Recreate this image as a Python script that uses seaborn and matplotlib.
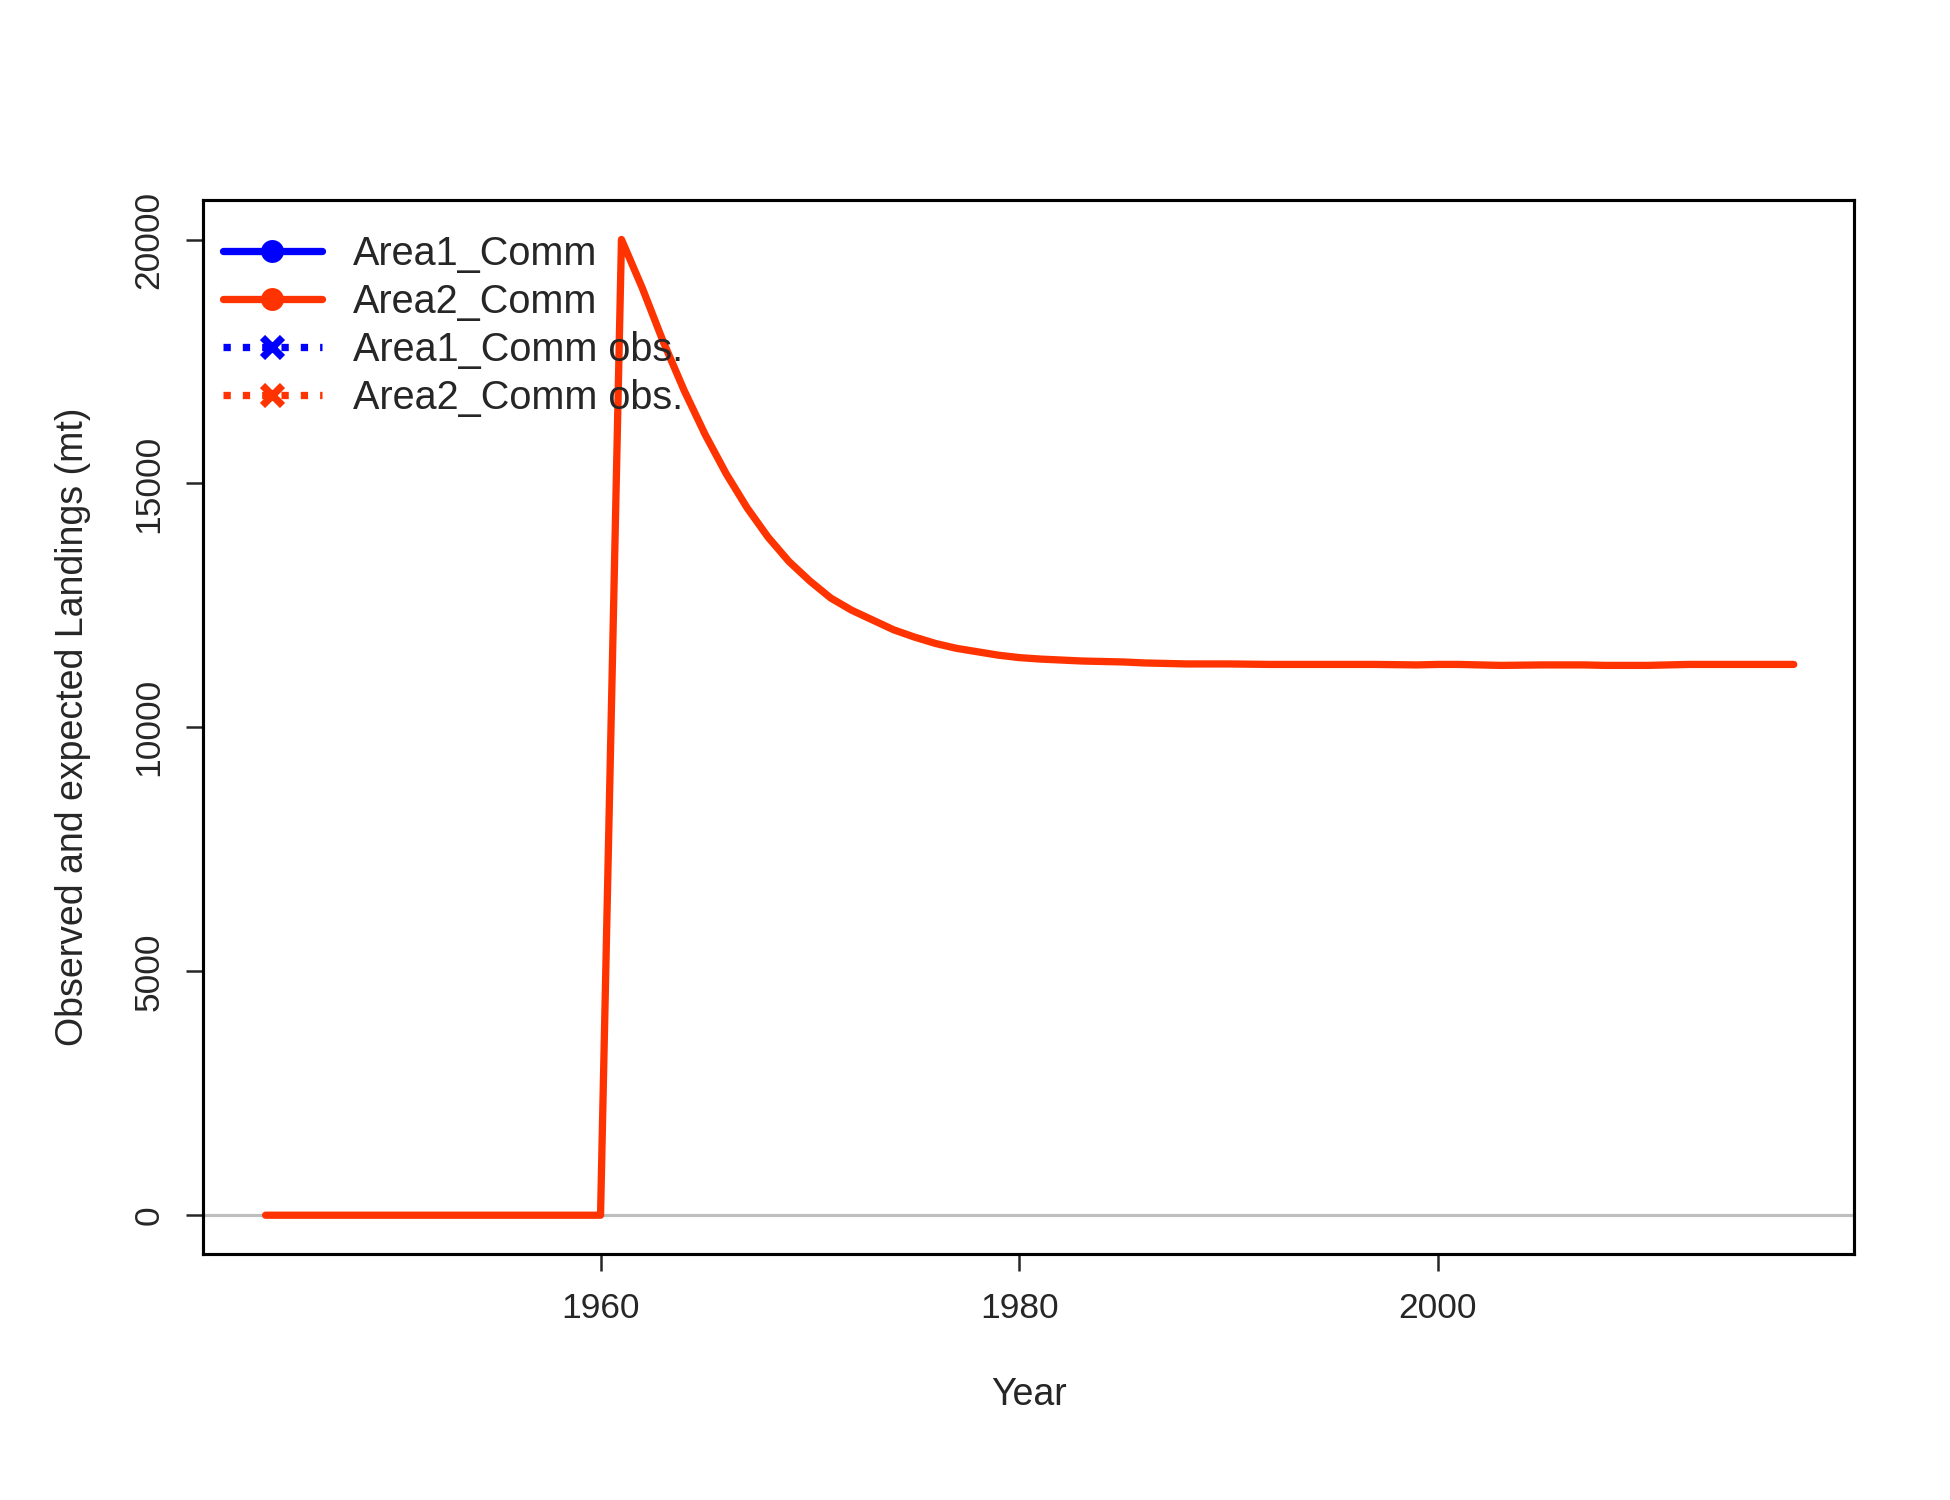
import numpy as np
import pandas as pd
import matplotlib
matplotlib.use("Agg")
import matplotlib.pyplot as plt
from matplotlib.lines import Line2D
import seaborn as sns

years = list(range(1944, 2018))
area2_pre = [0] * 17  # 1944-1960
area2_post = [20000, 19000, 17900, 16900, 16000, 15200, 14500, 13900, 13400, 13000,
              12650, 12400, 12200, 12000, 11850, 11720, 11620, 11550, 11480, 11430,
              11400, 11380, 11360, 11350, 11340, 11320, 11310, 11300, 11300, 11300,
              11295, 11290, 11290, 11290, 11290, 11290, 11290, 11285, 11280, 11290,
              11290, 11280, 11270, 11275, 11280, 11280, 11280, 11270, 11270, 11270,
              11280, 11290, 11290, 11290, 11290, 11290, 11290]
area2_comm = area2_pre + area2_post

legend_labels = ["Area1_Comm", "Area2_Comm", "Area1_Comm obs.", "Area2_Comm obs."]
blue = "#0000FF"
red = "#FF3300"

df = pd.DataFrame({"Year": years, "Landings": area2_comm})

sns.set_style("white")
plt.rcParams["font.family"] = ["Liberation Sans", "DejaVu Sans"]

fig = plt.figure(figsize=(13, 10), dpi=150)
ax = fig.add_axes([0.104, 0.164, 0.847, 0.703])

ax.axhline(0, color="#BEBEBE", lw=1.5, zorder=1)
sns.lineplot(data=df, x="Year", y="Landings", ax=ax, color=red, lw=3.5, zorder=3)

ax.set_xlim(1941.0, 2019.9)
ax.set_ylim(-795, 20820)
ax.set_xticks([1960, 1980, 2000])
ax.set_yticks([0, 5000, 10000, 15000, 20000])
ax.tick_params(axis="both", labelsize=17, length=8, width=1.2, direction="out",
               bottom=True, left=True, pad=10)
for lab in ax.get_yticklabels():
    lab.set_rotation(90)
    lab.set_va("center")
for s in ax.spines.values():
    s.set_linewidth(1.5)
    s.set_color("black")
ax.set_xlabel("Year", fontsize=18, labelpad=25)
ax.set_ylabel("Observed and expected Landings (mt)", fontsize=18, labelpad=20)

handles = [
    Line2D([], [], color=blue, lw=3.5, marker="o", markersize=10),
    Line2D([], [], color=red, lw=3.5, marker="o", markersize=10),
    Line2D([], [], color=blue, lw=3.5, ls=":", marker="x", markersize=10, mew=3.5),
    Line2D([], [], color=red, lw=3.5, ls=":", marker="x", markersize=10, mew=3.5),
]
ax.legend(handles, legend_labels, loc="upper left", frameon=False, fontsize=19,
          handlelength=2.5, labelspacing=0.25, borderaxespad=0.1,
          bbox_to_anchor=(0.0, 0.985))

fig.savefig("out.png", dpi=150)
